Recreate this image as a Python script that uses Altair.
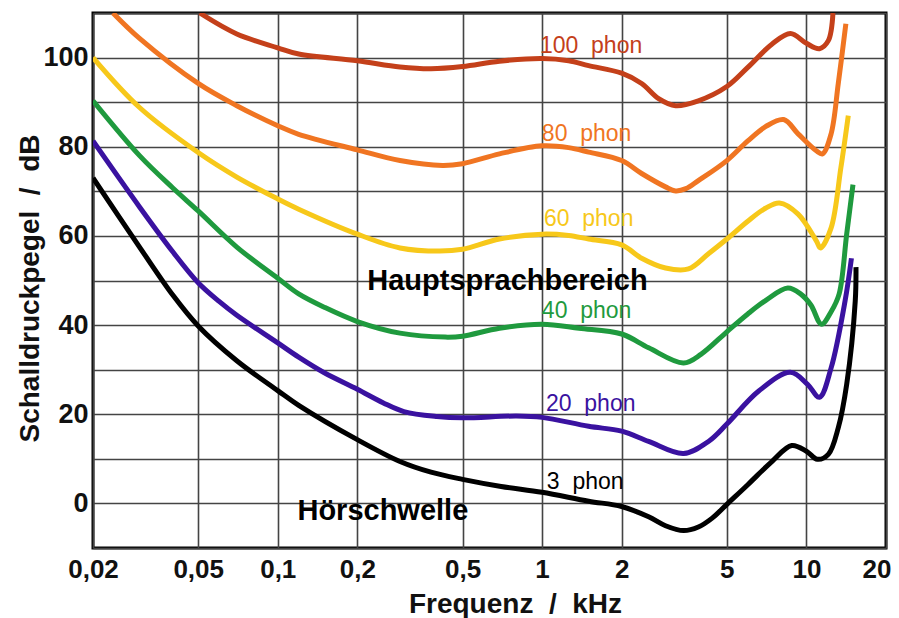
import altair as alt
import pandas as pd

# ---- data ----
curve_names = ["100 phon", "80 phon", "60 phon", "40 phon", "20 phon", "3 phon"]
curve_colors = ["#c4401a", "#f07522", "#f7c81a", "#1f9a3e", "#3a12a0", "#000000"]

freq_100 = [0.0507, 0.07, 0.1, 0.12, 0.2, 0.29, 0.38, 0.5, 0.69, 1.0, 1.26, 1.5, 2.0, 2.38, 2.76, 3.2, 3.9, 5.0, 6.0, 7.4, 8.7, 10.0, 11.2, 12.1, 12.6]
db_100 = [110, 105.3, 102.2, 100.8, 99.3, 97.9, 97.5, 98.0, 99.2, 99.8, 99.3, 98.2, 96.5, 94.2, 90.8, 89.2, 90.3, 93.5, 97.8, 103.0, 105.4, 103.2, 102.0, 103.8, 110]

freq_80 = [0.0238, 0.03, 0.05, 0.07, 0.1, 0.12, 0.2, 0.29, 0.42, 0.5, 0.69, 1.0, 1.26, 1.5, 2.0, 2.38, 2.93, 3.2, 3.5, 3.9, 5.0, 6.0, 7.0, 8.2, 9.3, 10.9, 11.5, 12.4, 13.2, 14.1]
db_80 = [110, 104.3, 94.2, 89.2, 84.7, 82.8, 79.3, 76.9, 75.8, 76.2, 78.4, 80.2, 79.8, 78.8, 76.9, 74.0, 71.0, 70.1, 70.6, 72.4, 76.9, 81.3, 84.5, 86.1, 82.9, 79.1, 78.4, 82.9, 94.2, 107.6]

freq_60 = [0.02, 0.03, 0.05, 0.07, 0.1, 0.12, 0.2, 0.29, 0.41, 0.5, 0.69, 1.0, 1.26, 1.5, 2.0, 2.38, 2.93, 3.58, 4.26, 5.0, 6.0, 7.0, 7.9, 9.3, 10.9, 11.3, 12.4, 13.5, 14.4]
db_60 = [100, 88.8, 78.7, 73.2, 68.3, 66.0, 60.4, 57.3, 56.6, 57.0, 59.3, 60.4, 60.1, 59.3, 58.0, 55.0, 52.8, 52.6, 56.0, 59.3, 63.3, 66.2, 67.4, 64.9, 58.9, 57.3, 61.8, 75.3, 87.0]

freq_40 = [0.02, 0.03, 0.04, 0.05, 0.07, 0.1, 0.12, 0.15, 0.2, 0.29, 0.43, 0.5, 0.69, 1.0, 1.38, 2.0, 2.53, 3.43, 4.0, 5.0, 6.0, 7.0, 8.5, 9.5, 10.4, 11.4, 12.4, 13.3, 14.2, 15.0]
db_40 = [90.3, 78.0, 70.8, 65.6, 57.5, 50.5, 47.0, 44.0, 40.8, 38.2, 37.3, 37.5, 39.3, 40.2, 39.3, 38.0, 34.9, 31.5, 33.5, 38.5, 42.5, 45.5, 48.3, 47.0, 44.5, 40.2, 43.0, 47.0, 60.4, 71.5]

freq_20 = [0.02, 0.03, 0.04, 0.05, 0.06, 0.07, 0.1, 0.12, 0.15, 0.2, 0.25, 0.3, 0.4, 0.5, 0.8, 1.0, 1.5, 2.0, 2.53, 3.43, 4.26, 5.0, 6.6, 8.7, 10.1, 11.2, 12.4, 14.0, 14.8]
db_20 = [81.3, 66.5, 56.5, 49.5, 45.3, 42.2, 36.0, 32.8, 29.3, 25.6, 22.6, 20.6, 19.5, 19.2, 19.6, 19.3, 17.3, 16.2, 13.9, 11.2, 13.9, 17.8, 25.2, 29.4, 26.7, 23.8, 30.4, 45.4, 55.0]

freq_3 = [0.02, 0.03, 0.04, 0.05, 0.07, 0.1, 0.12, 0.2, 0.29, 0.38, 0.5, 0.7, 1.0, 1.5, 2.0, 2.53, 2.93, 3.43, 3.9, 4.4, 5.0, 6.0, 7.4, 8.8, 10.0, 11.0, 12.1, 13.2, 14.2, 15.3, 15.4]
db_3 = [73.0, 57.5, 46.8, 39.8, 32.0, 25.3, 22.0, 14.3, 9.4, 7.0, 5.4, 3.8, 2.5, 0.5, -0.7, -3.0, -5.0, -6.1, -5.3, -3.3, -0.2, 4.2, 9.4, 13.0, 11.7, 9.9, 11.0, 17.0, 26.7, 45.4, 53.0]

label_texts = ["100\u00a0\u00a0phon", "80\u00a0\u00a0phon", "60\u00a0\u00a0phon", "40\u00a0\u00a0phon", "20\u00a0\u00a0phon", "3\u00a0\u00a0phon"]
label_f = [0.981, 0.998, 1.016, 0.998, 1.034, 1.042]
label_db = [102.7, 82.9, 63.8, 43.1, 22.2, 4.9]

note_texts = ["Hauptsprachbereich", "Hörschwelle"]
note_f = [0.218, 0.1187]
note_db = [49.9, -1.8]

x_ticks = [0.02, 0.05, 0.1, 0.2, 0.5, 1, 2, 5, 10, 20]
y_ticks = list(range(-10, 111, 10))

# ---- build tables ----
rows = []
for name, fs, ds in zip(curve_names,
                        [freq_100, freq_80, freq_60, freq_40, freq_20, freq_3],
                        [db_100, db_80, db_60, db_40, db_20, db_3]):
    for f, d in zip(fs, ds):
        rows.append({"curve": name, "f": f, "db": d})
df = pd.DataFrame(rows)

lab = pd.DataFrame({"curve": curve_names, "text": label_texts, "f": label_f, "db": label_db})
notes = pd.DataFrame({"text": note_texts, "f": note_f, "db": note_db})

FONT = "Liberation Sans, Arial, Helvetica, sans-serif"

x_scale = alt.Scale(type="log", domain=[0.02, 20], nice=False)
y_scale = alt.Scale(domain=[-10, 110], nice=False, zero=False)
color_scale = alt.Scale(domain=curve_names, range=curve_colors)

x_axis = alt.Axis(
    values=x_ticks,
    labelExpr="replace(toString(datum.value), '.', ',')",
    labelFont=FONT, labelFontSize=26, labelFontWeight="bold", labelColor="#111",
    labelOverlap=False, labelFlush=False, labelPadding=8,
    labelAlign={"condition": {"test": "datum.value >= 20", "value": "right"}, "value": "center"},
    labelOffset={"condition": {"test": "datum.value >= 20", "value": 5}, "value": 0},
    ticks=False, domain=False,
    grid=True, gridColor="#444", gridWidth=1.6,
    title="Frequenz \u00a0/\u00a0 kHz",
    titleFont=FONT, titleFontSize=28, titleFontWeight="bold", titleColor="#111",
    titleX=422, titleY=64, titleBaseline="alphabetic", titleAlign="center",
)
y_axis = alt.Axis(
    values=y_ticks,
    labelExpr="(datum.value % 20 == 0 && datum.value >= 0 && datum.value <= 100) ? datum.value : ''",
    labelFont=FONT, labelFontSize=27, labelFontWeight="bold", labelColor="#111",
    labelOverlap=False, labelFlush=False, labelPadding=5,
    ticks=False, domain=False,
    grid=True, gridColor="#444", gridWidth=1.6,
    title="Schalldruckpegel \u00a0/\u00a0 dB",
    titleFont=FONT, titleFontSize=28, titleFontWeight="bold", titleColor="#111",
    titleX=-63, titleY=275, titleBaseline="middle", titleAlign="center", titleAngle=270,
)

lines = alt.Chart(df).mark_line(strokeWidth=5, interpolate="catmull-rom", clip=True).encode(
    x=alt.X("f:Q", scale=x_scale, axis=x_axis),
    y=alt.Y("db:Q", scale=y_scale, axis=y_axis),
    color=alt.Color("curve:N", scale=color_scale, legend=None),
)

labels = alt.Chart(lab).mark_text(
    align="left", baseline="middle", font=FONT, fontSize=23
).encode(
    x=alt.X("f:Q", scale=x_scale),
    y=alt.Y("db:Q", scale=y_scale),
    text="text:N",
    color=alt.Color("curve:N", scale=color_scale, legend=None),
)

note_layer = alt.Chart(notes).mark_text(
    align="left", baseline="middle", font=FONT, fontSize=29, fontWeight="bold", color="#000"
).encode(
    x=alt.X("f:Q", scale=x_scale),
    y=alt.Y("db:Q", scale=y_scale),
    text="text:N",
)

chart = alt.layer(lines, labels, note_layer).properties(
    width=793, height=535,
    autosize=alt.AutoSizeParams(type="none"),
    padding={"left": 93, "top": 13, "right": 13, "bottom": 70},
    background="white",
).configure_view(stroke="#000", strokeWidth=3)

chart.save("out.html", embed_options={"renderer": "svg", "actions": False})
